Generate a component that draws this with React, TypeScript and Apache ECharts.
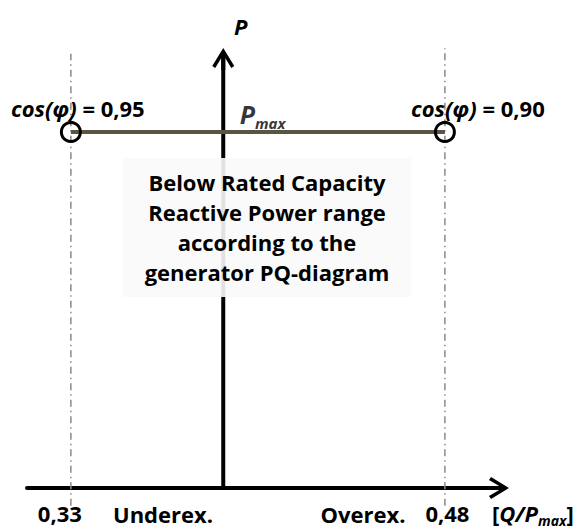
import { useEffect, useRef } from 'react';
import * as echarts from 'echarts';

// ---- data ----
const qLimits = [-0.33, 0.48]; // Q/Pmax limits (underexcited < 0 < overexcited)
const qTickLabels = ['0,33', '0,48'];
const cosPhiValues = ['0,95', '0,90'];
const pMax = 1;
const guideBottom = -0.05;
const guideTops = [1.22, 1.235];
const excitationLabels = ['Underex.', 'Overex.'];
const regionLines = [
  'Below Rated Capacity',
  'Reactive Power range',
  'according to the',
  'generator PQ-diagram',
];

const FONT = '"Open Sans", "Noto Sans", sans-serif';
const ARROW =
  'path://M11,0 L22,18 L19,20 L13,9.9 L13,22 L9,22 L9,9.9 L3,20 L0,18 Z';

const txt = (size: number, italic = false, extra: Record<string, unknown> = {}) => ({
  fontFamily: FONT,
  fontWeight: 'bold',
  fontStyle: italic ? 'italic' : 'normal',
  fontSize: size,
  color: '#000',
  ...extra,
});

export default function App() {
  const ref = useRef<HTMLDivElement>(null);

  useEffect(() => {
    if (!ref.current) return;
    const chart = echarts.init(ref.current, null, { renderer: 'svg' });

    const axisLine = {
      show: true,
      onZero: true,
      symbol: ['none', ARROW],
      symbolSize: [22, 22],
      lineStyle: { color: '#000', width: 4 },
    };

    const guideSeries = qLimits.map((q, i) => ({
      type: 'line',
      clip: false,
      silent: true,
      symbol: 'none',
      z: 1,
      lineStyle: { color: '#8a8a8a', width: 1.5, type: [7, 4, 1.5, 4] },
      data: [
        [q, guideBottom],
        [q, guideTops[i]],
      ],
    }));

    const bottomText = (x: number, text: string) => ({
      type: 'text',
      x,
      y: 514,
      z: 100,
      style: {
        text,
        fontFamily: FONT,
        fontWeight: 'bold',
        fontSize: 22,
        lineHeight: 24,
        fill: '#000',
        align: 'center',
        verticalAlign: 'middle',
      },
    });

    chart.setOption({
      animation: false,
      backgroundColor: '#fff',
      grid: { left: 27, top: 59, width: 471, height: 429, containLabel: false },
      xAxis: {
        type: 'value',
        min: -0.425,
        max: 0.595,
        name: '{b|[}{i|Q/P}{s|max}{b|]}',
        nameLocation: 'end',
        nameGap: -6,
        nameTextStyle: {
          ...txt(22),
          padding: [50, 0, 0, 0],
          rich: {
            b: txt(22, false, { lineHeight: 26 }),
            i: txt(22, true, { lineHeight: 26 }),
            s: txt(14, true, { lineHeight: 14, padding: [14, 0, 0, 0] }),
          },
        },
        axisLine,
        axisTick: { show: false },
        splitLine: { show: false },
        axisLabel: {
          show: true,
          customValues: qLimits,
          margin: 13,
          formatter: (v: number) => {
            const i = qLimits.findIndex((q) => Math.abs(q - v) < 1e-6);
            if (i < 0) return '';
            return i === 0 ? `{l|${qTickLabels[i]}}` : `{r|${qTickLabels[i]}}`;
          },
          rich: {
            l: txt(22, false, { lineHeight: 24, padding: [0, 22, 0, 0] }),
            r: txt(22, false, { lineHeight: 24, padding: [0, 0, 0, 5] }),
          },
        },
      },
      yAxis: {
        type: 'value',
        min: 0,
        max: 1.205,
        axisLine,
        axisTick: { show: false },
        splitLine: { show: false },
        axisLabel: { show: false },
      },
      series: [
        ...guideSeries,
        {
          type: 'line',
          symbol: 'none',
          z: 3,
          lineStyle: { color: '#5a5540', width: 4 },
          data: qLimits.map((q) => [q, pMax]),
        },
        {
          // Pmax level label at the P axis
          type: 'scatter',
          symbol: 'circle',
          symbolSize: 1,
          z: 5,
          silent: true,
          itemStyle: { color: 'rgba(0,0,0,0)' },
          label: {
            show: true,
            position: 'right',
            distance: 0,
            offset: [16, -18],
            formatter: '{p|P}{s|max}',
            ...txt(25, true),
            rich: {
              p: txt(25, true, { lineHeight: 28 }),
              s: txt(15, true, { lineHeight: 15, padding: [18, 0, 0, 0] }),
            },
          },
          data: [[0, pMax]],
        },
        {
          type: 'scatter',
          symbol: 'circle',
          symbolSize: 19,
          z: 4,
          itemStyle: {
            color: 'rgba(0,0,0,0)',
            borderColor: '#000',
            borderWidth: 3,
            opacity: 1,
          },
          label: {
            show: true,
            position: 'top',
            distance: 5,
            ...txt(22),
            rich: {
              it: txt(22, true),
              b: txt(22),
            },
          },
          data: qLimits.map((q, i) => ({
            value: [q, pMax],
            label: {
              formatter: `{it|cos(φ)}{b| = ${cosPhiValues[i]}}`,
              offset: i === 0 ? [7, 3] : [33, 3],
            },
          })),
        },
      ],
      graphic: [
        {
          type: 'text',
          x: 234,
          y: 26,
          z: 100,
          style: {
            text: 'P',
            fontFamily: FONT,
            fontStyle: 'italic',
            fontWeight: 'bold',
            fontSize: 22,
            fill: '#000',
            align: 'left',
            verticalAlign: 'middle',
          },
        },
        {
          type: 'rect',
          z: 90,
          shape: { x: 123, y: 158, width: 288, height: 139 },
          style: { fill: 'rgba(250,250,250,0.9)' },
        },
        {
          type: 'text',
          x: 267,
          y: 227,
          z: 100,
          style: {
            text: regionLines.join('\n'),
            fontFamily: FONT,
            fontWeight: 'bold',
            fontSize: 22,
            lineHeight: 30,
            fill: '#000',
            align: 'center',
            verticalAlign: 'middle',
          },
        },
        bottomText(163, excitationLabels[0]),
        bottomText(363, excitationLabels[1]),
      ],
    });

    return () => chart.dispose();
  }, []);

  return (
    <div
      ref={ref}
      style={{ position: 'absolute', left: 0, top: 0, width: 582, height: 529 }}
    />
  );
}
